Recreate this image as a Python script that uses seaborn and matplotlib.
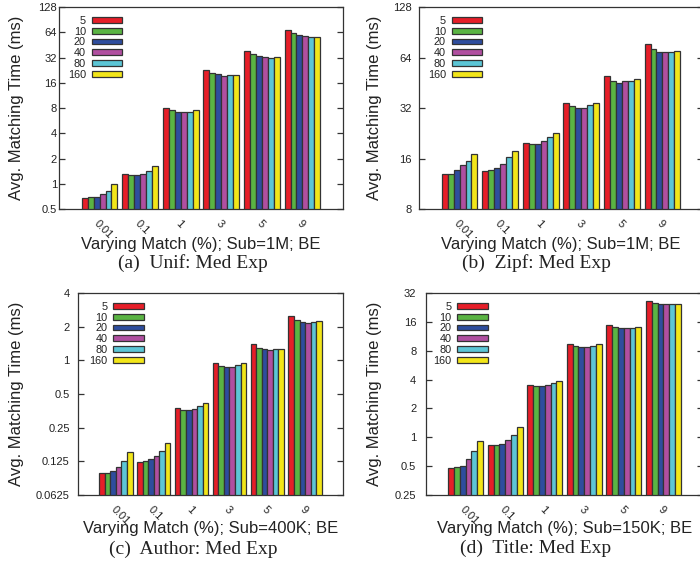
import numpy as np
import pandas as pd
import seaborn as sns
import matplotlib
matplotlib.use("Agg")
import matplotlib.pyplot as plt
from matplotlib.patches import Patch
from matplotlib.transforms import blended_transform_factory

# ---- data -------------------------------------------------------------
match_levels = ["0.01", "0.1", "1", "3", "5", "9"]
sub_sizes = ["5", "10", "20", "40", "80", "160"]

# rows: match level, columns: number of subscriptions per partition
unif_times = [
    [0.67, 0.70, 0.70, 0.75, 0.82, 0.98],
    [1.30, 1.26, 1.27, 1.31, 1.42, 1.61],
    [8.0, 7.6, 7.1, 7.1, 7.1, 7.6],
    [23.0, 21.0, 20.4, 19.4, 19.8, 19.8],
    [37.9, 35.5, 33.0, 32.7, 32.0, 32.4],
    [67.5, 62.0, 59.8, 57.7, 56.9, 56.5],
]
zipf_times = [
    [13.0, 13.0, 13.7, 14.6, 15.5, 17.1],
    [13.5, 13.7, 14.0, 14.8, 16.4, 17.8],
    [19.8, 19.6, 19.6, 20.4, 21.6, 22.8],
    [34.4, 32.9, 32.0, 32.0, 33.5, 34.4],
    [49.6, 46.1, 45.3, 46.1, 46.6, 47.7],
    [77.4, 72.3, 69.0, 69.0, 69.0, 69.7],
]
author_times = [
    [0.098, 0.098, 0.102, 0.112, 0.127, 0.152],
    [0.124, 0.127, 0.130, 0.140, 0.154, 0.181],
    [0.378, 0.362, 0.362, 0.370, 0.393, 0.416],
    [0.953, 0.895, 0.877, 0.877, 0.900, 0.953],
    [1.41, 1.28, 1.255, 1.23, 1.27, 1.27],
    [2.51, 2.28, 2.20, 2.17, 2.21, 2.26],
]
title_times = [
    [0.477, 0.489, 0.505, 0.587, 0.716, 0.917],
    [0.827, 0.827, 0.847, 0.93, 1.067, 1.272],
    [3.50, 3.39, 3.39, 3.47, 3.65, 3.82],
    [9.35, 8.91, 8.85, 8.70, 8.98, 9.30],
    [14.96, 14.15, 13.8, 13.7, 13.8, 14.15],
    [26.6, 25.1, 24.7, 24.5, 24.3, 24.3],
]

unif_ticks = ["0.5", "1", "2", "4", "8", "16", "32", "64", "128"]
zipf_ticks = ["8", "16", "32", "64", "128"]
author_ticks = ["0.0625", "0.125", "0.25", "0.5", "1", "2", "4"]
title_ticks = ["0.25", "0.5", "1", "2", "4", "8", "16", "32"]

x_labels = [
    "Varying Match (%); Sub=1M; BE",
    "Varying Match (%); Sub=1M; BE",
    "Varying Match (%); Sub=400K; BE",
    "Varying Match (%); Sub=150K; BE",
]
captions = [
    "(a)  Unif: Med Exp",
    "(b)  Zipf: Med Exp",
    "(c)  Author: Med Exp",
    "(d)  Title: Med Exp",
]

palette = ["#e61e28", "#5ab443", "#2e4d9e", "#b04fa0", "#5cc6d6", "#f2e619"]

# ---- style ------------------------------------------------------------
sns.set_style("ticks")
plt.rcParams["font.family"] = ["Liberation Sans", "DejaVu Sans"]
text_color = "#222222"
edge_color = "#333333"

W, H = 700, 564
fig = plt.figure(figsize=(W / 100, H / 100), dpi=100)


def px_rect(left, right, top, bottom):
    return [left / W, 1 - bottom / H, (right - left) / W, (bottom - top) / H]


panels = [
    dict(times=unif_times, ticks=unif_ticks, rect=px_rect(59, 343, 7, 209),
         pad=1.5, ylab_x=17, xlab_y=245, cap=(193, 263), leg=(0.0, 1.0)),
    dict(times=zipf_times, ticks=zipf_ticks, rect=px_rect(419, 703, 7, 209),
         pad=5, ylab_x=375, xlab_y=245, cap=(536, 263), leg=(0.0, 1.0)),
    dict(times=author_times, ticks=author_ticks, rect=px_rect(78, 343, 293, 495),
         pad=6, ylab_x=17, xlab_y=528, cap=(193, 549), leg=(0.01, 1.0)),
    dict(times=title_times, ticks=title_ticks, rect=px_rect(426, 703, 293, 495),
         pad=7, ylab_x=375, xlab_y=528, cap=(536, 548), leg=(-0.005, 1.0)),
]

for i, p in enumerate(panels):
    ax = fig.add_axes(p["rect"])
    df = pd.DataFrame(p["times"], index=match_levels, columns=sub_sizes)
    df = df.reset_index(names="match").melt(id_vars="match", var_name="subs",
                                            value_name="time")
    sns.barplot(data=df, x="match", y="time", hue="subs", order=match_levels,
                hue_order=sub_sizes, palette=palette, width=0.88, gap=0,
                edgecolor=edge_color, linewidth=0.9, saturation=1,
                errorbar=None, legend=False, ax=ax)
    ax.set_yscale("log", base=2)
    tick_vals = [float(t) for t in p["ticks"]]
    ax.set_ylim(tick_vals[0], tick_vals[-1])
    ax.set_yticks(tick_vals)
    ax.set_yticklabels(p["ticks"])
    ax.yaxis.set_minor_locator(matplotlib.ticker.NullLocator())
    ax.set_xlim(-1, 6)

    ax.tick_params(axis="y", which="major", direction="in", length=4,
                   width=0.9, left=True, right=True, labelsize=8,
                   colors=edge_color, labelcolor=text_color, pad=p["pad"])
    ax.tick_params(axis="x", length=0, labelsize=8, labelcolor=text_color,
                   pad=7)
    for lab in ax.get_xticklabels():
        lab.set_rotation(-45)
        lab.set_ha("left")
        lab.set_va("top")
        lab.set_rotation_mode("anchor")

    for s in ax.spines.values():
        s.set_visible(True)
        s.set_linewidth(0.9)
        s.set_color(edge_color)

    ax.set_ylabel("Avg. Matching Time (ms)", fontsize=12, color=text_color)
    ax.yaxis.set_label_coords(p["ylab_x"] / W, 0.5,
                              transform=blended_transform_factory(fig.transFigure, ax.transAxes))
    ax.set_xlabel(x_labels[i], fontsize=12, color=text_color)
    ax.xaxis.set_label_coords(0.5, 1 - p["xlab_y"] / H,
                              transform=blended_transform_factory(ax.transAxes, fig.transFigure))
    ax.xaxis.label.set_va("center")
    ax.yaxis.label.set_va("center")

    handles = [Patch(facecolor=c, edgecolor=edge_color, linewidth=0.9)
               for c in palette]
    ax.legend(handles, sub_sizes, loc="upper left", bbox_to_anchor=p["leg"],
              frameon=False, markerfirst=False, fontsize=7.8,
              handlelength=2.8, handleheight=0.45, handletextpad=0.55,
              labelspacing=0.08, borderaxespad=0.4, labelcolor=text_color)

    fig.text(p["cap"][0] / W, 1 - p["cap"][1] / H, captions[i],
             fontsize=14, family=["Liberation Serif", "DejaVu Serif"],
             color=text_color, ha="center", va="center")

fig.savefig("out.png", dpi=100)
